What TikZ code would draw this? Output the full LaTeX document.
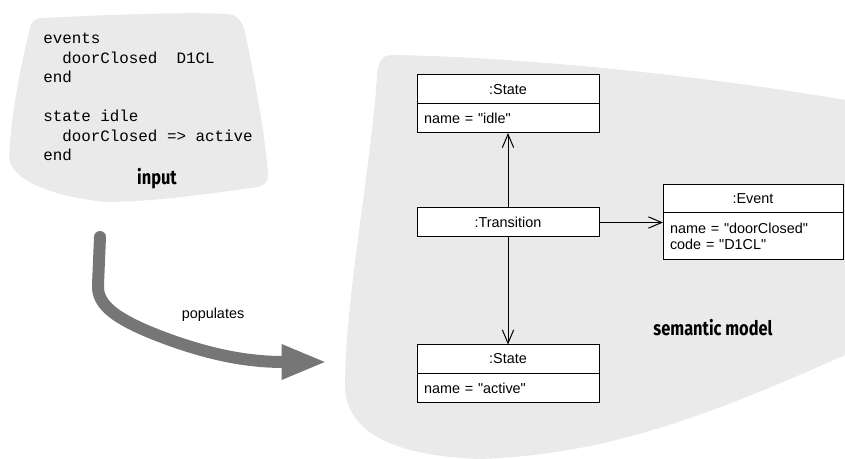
\documentclass[tikz,border=0pt]{standalone}
\usepackage{fontspec}
\setmainfont{Liberation Sans}[Ligatures=TeXOff]
\setsansfont{Liberation Sans}[Ligatures=TeXOff]
\setmonofont{Liberation Mono}
\newfontfamily\handfont[FakeStretch=0.82]{Fira Sans}
\usetikzlibrary{positioning}
\usetikzlibrary{arrows.meta}
\definecolor{blobgray}{RGB}{234,234,234}
\definecolor{arrowgray}{RGB}{118,118,118}

\tikzset{
 objhead/.style={draw,fill=white,line width=0.75pt,inner sep=0pt,outer sep=0pt,
   minimum width=136.5pt,minimum height=21.75pt,font=\fontsize{10.8}{13}\selectfont},
 objbody/.style={draw,fill=white,line width=0.75pt,outer sep=0pt,inner xsep=5.25pt,
   inner ysep=0pt,text width=126pt,align=left,minimum height=21.75pt,
   font=\fontsize{10.8}{12}\selectfont},
 link/.style={line width=0.75pt,-{Straight Barb[length=10pt,width=8.5pt]}},
 hand/.style={font=\handfont\bfseries\fontsize{15}{18}\selectfont},
}

\begin{document}
\begin{tikzpicture}[x=0.75pt,y=-0.75pt]
 \useasboundingbox (0,0) rectangle (845,459);
 % blobs
 \fill[blobgray] (45,18) .. controls (120,14) and (190,12) .. (228,14)
   .. controls (238,15) and (242,22) .. (245,32)
   .. controls (255,80) and (266,140) .. (268,175)
   .. controls (268,182) and (265,185) .. (258,187)
   .. controls (200,195) and (150,202) .. (105,202)
   .. controls (50,196) and (12,180) .. (9,158)
   .. controls (12,100) and (25,50) .. (30,28)
   .. controls (32,20) and (36,18) .. (45,18) -- cycle;
 \fill[blobgray] (845,100) .. controls (700,75) and (520,57) .. (392,55)
   .. controls (382,55) and (378,62) .. (377,75)
   .. controls (372,160) and (345,300) .. (345,385)
   .. controls (345,430) and (390,456) .. (480,459)
   .. controls (600,455) and (700,420) .. (845,355) -- cycle;

 \node[anchor=north west,inner sep=0pt,align=left,
   font=\ttfamily\fontsize{11.9}{14.6}\selectfont] (code) at (43,33)
   {events\\\ \ doorClosed\ \ D1CL\\end\\[14.6pt]state idle\\\ \ doorClosed => active\\end};
 \node[hand,anchor=base] (input) at (157,185) {input};
 \node[hand,anchor=base] (semlabel) at (713,335) {semantic model};

 % objects
 \node[objhead] (idlehead) at (508,89.5) {:State};
 \node[objbody,below=0pt of idlehead] (idlebody) {name = "idle"};
 \node[objhead] (trans) at (508,222.5) {:Transition};
 \node[objhead] (activehead) at (508,359) {:State};
 \node[objbody,below=0pt of activehead] (activebody) {name = "active"};
 \node[objhead,minimum width=135pt,minimum height=21pt] (eventhead) at (753,199) {:Event};
 \node[objbody,text width=124.5pt,minimum height=35.25pt,below=0pt of eventhead] (eventbody)
   {name = "doorClosed"\\code = "D1CL"};

 \draw[link] (trans) -- (idlebody);
 \draw[link] (trans) -- (activehead);
 \draw[link] (trans.east) -- (trans.east -| eventbody.west);

 % populates arrow
 \coordinate (src) at (100,237);
 \coordinate (dst) at (327,362);
 \draw[arrowgray,line width=9pt,line cap=round,-{Triangle[length=34pt,width=24pt]}]
   (src) -- (98,285) .. controls (97,305) and (115,320) .. (170,340)
   .. controls (215,356) and (250,362) .. (dst);
 \node[anchor=base,font=\fontsize{10.8}{13}\selectfont] (pop) at (213,319) {populates};
\end{tikzpicture}
\end{document}
